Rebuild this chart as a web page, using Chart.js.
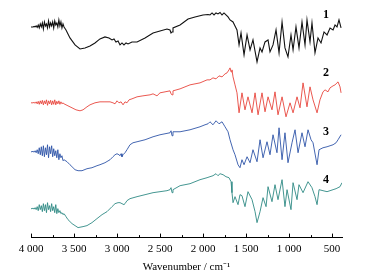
<!DOCTYPE html>
<html>
<head>
<meta charset="utf-8">
<script src="https://cdn.jsdelivr.net/npm/chart.js@4"></script>
<style>
  html, body { margin: 0; padding: 0; background: #fff; }
  canvas { display: block; }
</style>
</head>
<body>
<canvas id="ir" width="365" height="277"></canvas>
<script>
/* ═══════════════════════════════════════════════
   IR SPECTRA – offset traces 1..4
═══════════════════════════════════════════════ */

// shared noisy O-H region grid (cm-1)
const noiseWn = [4000,3988,3976,3964,3952,3940,3928,3916,3904,3892,3880,3868,3856,3844,3832,3820,3808,3796,3784,3772,3760,3748,3736,3724,3712,3700,3688,3676,3664,3652,3640,3628,3616];

// trace 1 (black)
const noise1 = [214,214,214,214.5,214,215,213.5,216,213,217,214,218,212,219,215,217,213,220,214,218,215,219,213,220,216,218,214,221,215,219,213,217,214];
const wn1 = [3593,3570,3547,3488,3430,3372,3314,3256,3198,3140,3093,3058,3035,3012,2988,2965,2942,2919,2895,2872,2826,2767,2674,2581,2500,2419,2384,2372,2360,2349,2267,2174,2093,2000,1942,1919,1895,1872,1849,1826,1802,1779,1756,1733,1709,1686,1651,1628,1605,1581,1558,1523,1488,1453,1419,1372,1337,1314,1279,1244,1221,1186,1151,1116,1081,1047,1012,977,953,919,884,849,814,791,756,733,698,663,628,593,558,523,488,465,442,419,395];
const t1 = [211,207,203,196,192,193,195,198,202,204,203,201,202,199,200,196,198,196,198,197,199,199,203,208,210,212,211,208,209,213,216,222,224,226,226.5,226,228,226,228,227,228.5,226,228,226,224,221,219,215,211,196,208,186,206,191,201,179,193,189,199,201,189,196,211,188,219,193,184,206,191,214,193,219,196,221,199,218,188,203,198,209,206,213,211,216,214,221,213];

// trace 2 (red)
const noise2 = [138,138,138,138.5,137.5,139,137,139.5,136.5,140,137,140.5,136,140,137,141,135.5,140,137,140.5,136,140,136.5,141,136,139.5,137,140,136.5,139,137,138,137];
const wn2 = [3593,3570,3523,3477,3430,3395,3349,3314,3256,3198,3140,3081,3047,3023,3000,2977,2953,2930,2907,2884,2860,2826,2767,2698,2616,2581,2558,2535,2500,2442,2384,2372,2360,2349,2267,2151,2035,1953,1919,1884,1849,1814,1779,1744,1721,1698,1686,1674,1663,1651,1628,1605,1581,1547,1512,1477,1430,1395,1360,1314,1279,1244,1198,1163,1128,1081,1035,988,953,907,872,837,791,756,721,674,640,605,581,547,523,488,465,430,407,395];
const t2 = [136,135,133,131,130,131,134,136,138,139,139,139,138,137,140,138,139,136,139,138,141,142,144,145,146,147,146,145,148,149,150,147,146,150,152,156,158,161,161,163,162,165,164,167,168,171,173,169,171,164,156,148,128,148,131,144,128,148,126,148,129,144,131,149,126,144,124,138,128,144,133,158,134,154,141,128,141,149,151,149,153,155,156,159,154,148];

// trace 3 (blue)
const noise3 = [89,89,89.5,88.5,90,88,91,87,93,86,94,85,95,84,93,86,96,83,94,87,95,84,92,85,90,83,91,81,87,83,85,80,81];
const wn3 = [3581,3547,3523,3488,3453,3407,3349,3291,3233,3198,3140,3081,3047,3023,3000,2977,2965,2953,2942,2930,2907,2884,2849,2814,2767,2674,2581,2500,2442,2384,2372,2360,2349,2267,2151,2035,1977,1942,1919,1884,1849,1814,1779,1744,1709,1686,1651,1628,1593,1570,1547,1523,1488,1453,1419,1372,1337,1302,1256,1221,1186,1140,1116,1081,1047,1012,965,930,895,849,814,779,744,721,674,651,605,558,523,488,453,430,395];
const t3 = [79,76,74,71,70,70,72,73,75,76,78,81,84,86,87,86,85,87,84,86,88,91,96,98,99,101,104,106,107,108,110,105,109,109,111,114,116,117,119,116,120,117,119,114,109,101,91,86,76,73,81,76,84,78,91,79,101,83,99,86,106,88,113,81,108,78,98,111,88,108,94,111,101,98,76,91,93,94,95,96,98,101,106];

// trace 4 (teal)
const noise4 = [32,32,32.5,31.5,33,31,34,30,36,31,35,29,37,30,36,28,38,31,35,29,37,30,34,28,36,27,32,28,30,27,28,26,27];
const wn4 = [3593,3570,3523,3488,3453,3395,3349,3291,3233,3174,3116,3058,3023,2988,2965,2942,2919,2907,2884,2849,2767,2674,2581,2500,2419,2384,2372,2360,2349,2267,2151,2035,1953,1919,1884,1849,1826,1802,1767,1733,1698,1674,1663,1651,1628,1593,1570,1547,1512,1477,1430,1395,1372,1337,1302,1267,1244,1198,1163,1128,1081,1047,1023,977,953,907,884,837,779,733,698,674,651,605,558,523,488,453,407,384];
const t4 = [24,21,17,15,13,14,15,18,22,26,29,34,37,38,38,37,36,37,40,42,44,46,48,49,50,51,53,48,51,55,57,61,63,64,65,67,65,67,66,64,63,59,48,38,44,36,46,45,34,49,41,29,18,29,43,34,54,39,56,41,61,34,51,31,58,41,56,48,59,53,44,36,51,50,49,50,51,52,54,58];

const traceLabels = ['1', '2', '3', '4'];
const labelWn = 570;
const labelLevel = [226, 168, 109, 61];
const colors = ['#111111', '#e8453c', '#2f55a8', '#2f8a85'];
const xTicks = [4000, 3500, 3000, 2500, 2000, 1500, 1000, 500];

function series(noise, wn, vals) {
  const pts = noiseWn.map((x, i) => ({ x, y: noise[i] }));
  return pts.concat(wn.map((x, i) => ({ x, y: vals[i] })));
}

function fmtWn(v) {
  if (v >= 1000) return Math.floor(v / 1000) + ' ' + String(v % 1000).padStart(3, '0');
  return String(v);
}

// inward ticks + trace numbers
const decor = {
  id: 'decor',
  afterDraw(chart) {
    const { ctx, scales: { x, y } } = chart;
    const base = x.top;
    ctx.save();
    ctx.strokeStyle = '#000';
    ctx.lineWidth = 1;
    for (let v = 500; v <= 4000; v += 250) {
      const px = Math.round(x.getPixelForValue(v)) + 0.5;
      const len = v % 500 === 0 ? 4 : 2.5;
      ctx.beginPath();
      ctx.moveTo(px, base);
      ctx.lineTo(px, base - len);
      ctx.stroke();
    }
    ctx.fillStyle = '#000';
    ctx.font = 'bold 12px "Liberation Serif"';
    ctx.textAlign = 'center';
    ctx.textBaseline = 'middle';
    traceLabels.forEach((t, i) => {
      ctx.fillText(t, x.getPixelForValue(labelWn), y.getPixelForValue(labelLevel[i]));
    });
    ctx.restore();
  }
};

const sets = [
  series(noise1, wn1, t1),
  series(noise2, wn2, t2),
  series(noise3, wn3, t3),
  series(noise4, wn4, t4)
];

new Chart(document.getElementById('ir'), {
  type: 'line',
  data: {
    datasets: sets.map((d, i) => ({
      data: d,
      borderColor: colors[i],
      borderWidth: i === 0 ? 1.1 : 0.9,
      pointRadius: 0,
      tension: 0,
      fill: false
    }))
  },
  options: {
    responsive: false,
    animation: false,
    devicePixelRatio: 1,
    layout: { padding: { left: 31, right: 23, top: 0, bottom: 3 } },
    plugins: { legend: { display: false }, tooltip: { enabled: false } },
    scales: {
      x: {
        type: 'linear',
        reverse: true,
        min: 384,
        max: 4000,
        afterBuildTicks: s => { s.ticks = xTicks.map(v => ({ value: v })); },
        grid: { display: true, drawOnChartArea: false, drawTicks: false },
        border: { display: true, color: '#000', width: 1 },
        ticks: {
          padding: 5,
          maxRotation: 0,
          autoSkip: false,
          color: '#000',
          font: { family: "'Liberation Serif'", size: 11 },
          callback: v => fmtWn(v)
        },
        title: {
          display: true,
          text: 'Wavenumber / cm\u207B\u00B9',
          color: '#000',
          padding: { top: 0, bottom: 0 },
          font: { family: "'Liberation Serif'", size: 11 }
        }
      },
      y: { display: false, min: 3, max: 241 }
    }
  },
  plugins: [decor]
});
</script>
</body>
</html>
